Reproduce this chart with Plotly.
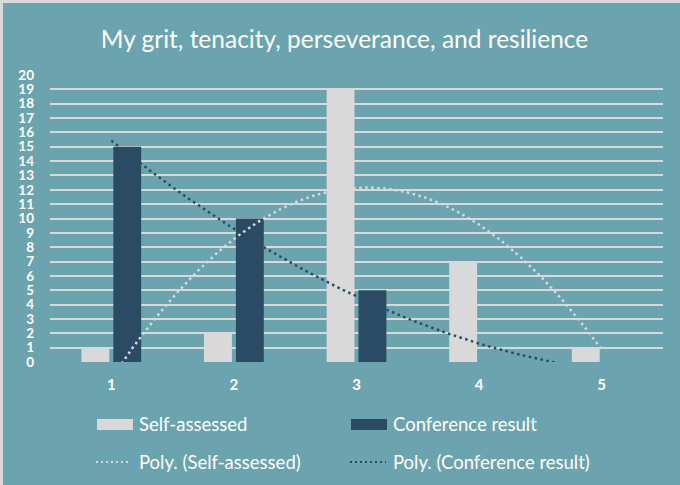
import numpy as np
import plotly.graph_objects as go

# ---- data ----
categories = [1, 2, 3, 4, 5]
self_assessed = [1, 2, 19, 7, 1]
conference_result = [15, 10, 5, 0, 0]
y_ticks = list(range(0, 21))
title_text = "My grit, tenacity, perseverance, and resilience"
series_names = ["Self-assessed", "Conference result",
                "Poly. (Self-assessed)", "Poly. (Conference result)"]

# ---- style ----
W, H = 680, 485
ML, MR, MT, MB = 50, 17, 75, 123
PW, PH = W - ML - MR, H - MT - MB
BG = "#6ba3ae"
GREY = "#d9d9d9"
NAVY = "#2b4a63"
FONT = "Lato"

def px2x(px):
    return (px - ML) / PW

def py2y(py):
    return (H - MB - py) / PH

# polynomial (order 2) trendlines, as the spreadsheet computes them
xs = np.linspace(categories[0], categories[-1], 300)
fit_self = np.polyval(np.polyfit(categories, self_assessed, 2), xs)
fit_conf = np.polyval(np.polyfit(categories, conference_result, 2), xs)

fig = go.Figure()
fig.add_trace(go.Bar(x=categories, y=self_assessed, name=series_names[0],
                     marker=dict(color=GREY, line=dict(width=0))))
fig.add_trace(go.Bar(x=categories, y=conference_result, name=series_names[1],
                     marker=dict(color=NAVY, line=dict(width=0))))
fig.add_trace(go.Scatter(x=xs, y=fit_self, mode="lines", name=series_names[2],
                         line=dict(color=GREY, width=2.5, dash="2.5px,3.5px")))
fig.add_trace(go.Scatter(x=xs, y=fit_conf, mode="lines", name=series_names[3],
                         line=dict(color=NAVY, width=2.5, dash="2.5px,3.5px")))

shapes = [
    # light frame on top / left edges
    dict(type="rect", xref="paper", yref="paper",
         x0=px2x(0), x1=px2x(3), y0=py2y(H), y1=py2y(0),
         fillcolor=GREY, line=dict(width=0), layer="above"),
    dict(type="rect", xref="paper", yref="paper",
         x0=px2x(0), x1=px2x(W), y0=py2y(3), y1=py2y(0),
         fillcolor=GREY, line=dict(width=0), layer="above"),
    # legend swatches
    dict(type="rect", xref="paper", yref="paper",
         x0=px2x(97), x1=px2x(133), y0=py2y(430), y1=py2y(419),
         fillcolor=GREY, line=dict(width=0)),
    dict(type="rect", xref="paper", yref="paper",
         x0=px2x(351), x1=px2x(387), y0=py2y(430), y1=py2y(419),
         fillcolor=NAVY, line=dict(width=0)),
    dict(type="line", xref="paper", yref="paper",
         x0=px2x(96), x1=px2x(131), y0=py2y(462), y1=py2y(462),
         line=dict(color=GREY, width=2, dash="2px,3px")),
    dict(type="line", xref="paper", yref="paper",
         x0=px2x(350), x1=px2x(386), y0=py2y(462), y1=py2y(462),
         line=dict(color=NAVY, width=2, dash="2px,3px")),
]

legend_pos = [(137, 424), (391, 424), (137, 462), (391, 462)]
annotations = [
    dict(text=name, xref="paper", yref="paper", x=px2x(px), y=py2y(py),
         xanchor="left", yanchor="middle", showarrow=False,
         font=dict(family=FONT, size=18.5, color="white"))
    for name, (px, py) in zip(series_names, legend_pos)
]

fig.update_layout(
    width=W, height=H,
    margin=dict(l=ML, r=MR, t=MT, b=MB, pad=0),
    paper_bgcolor=BG, plot_bgcolor=BG,
    title=dict(text=title_text, x=344.5 / W, xanchor="center",
               y=1 - 39 / H, yanchor="middle",
               font=dict(family=FONT, size=24.5, color="white")),
    showlegend=False,
    barmode="group", bargap=0.48, bargroupgap=0.125,
    font=dict(family=FONT, color="white"),
    shapes=shapes, annotations=annotations,
)
fig.update_xaxes(range=[0.5, 5.5], tickvals=categories,
                 ticktext=[str(c) for c in categories],
                 showgrid=False, zeroline=False, showline=False,
                 ticks="", ticklabelstandoff=12,
                 tickfont=dict(family=FONT, size=15, color="white", weight="bold"))
fig.update_yaxes(range=[0, 20], tickvals=y_ticks,
                 showgrid=True, gridcolor=GREY, gridwidth=2,
                 zeroline=False, showline=False, ticks="",
                 ticklabelstandoff=15,
                 tickfont=dict(family=FONT, size=13.5, color="white", weight="bold"))

fig.write_html(
    "out.html",
    config={"displayModeBar": False},
    post_script="document.body.style.margin='0';document.body.style.overflow='hidden';",
)
